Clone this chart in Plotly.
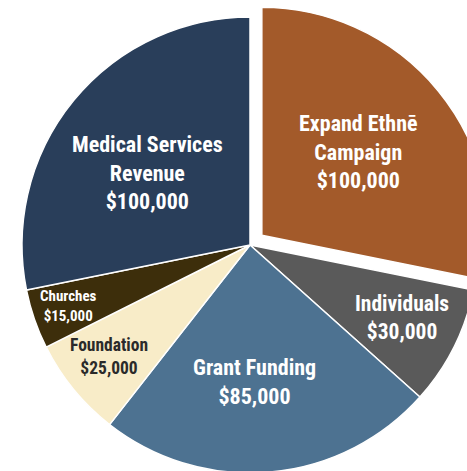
import math
import plotly.graph_objects as go

labels = ["Expand Ethnē<br>Campaign", "Individuals", "Grant Funding", "Foundation", "Churches", "Medical Services<br>Revenue"]
values = [100000, 30000, 85000, 25000, 15000, 100000]
colors = ["#A35A2A", "#5A5A5A", "#4D7291", "#F8ECC8", "#3D2E0B", "#293E5A"]
text_colors = ["white", "white", "white", "#2A2A2A", "white", "white"]
text_sizes = [22, 21.5, 22, 17.5, 15, 22]
label_radius = [0.56, 0.74, 0.6, 0.79, 0.84, 0.55]   # label distance from centre, as fraction of radius
label_turn = [-1.5, -1, 3, 1, 0.5, -4.5]             # small angular nudge of each label, degrees
pulls = [0.067, 0, 0, 0, 0, 0]

FONT = "Roboto Condensed, Liberation Sans Narrow, DejaVu Sans Condensed, Roboto, sans-serif"
W, H = 500, 490
cx, cy, r = 250, 245, 228
half = r * (1 + max(pulls))

texts = [f"<b>{l}<br>${v:,.0f}</b>" for l, v in zip(labels, values)]

fig = go.Figure(go.Pie(
    labels=labels,
    values=values,
    textinfo="none",
    sort=False,
    direction="clockwise",
    rotation=0,
    pull=pulls,
    marker=dict(colors=colors, line=dict(color="white", width=1.5)),
    hoverinfo="label+value",
    domain=dict(x=[(cx - half) / W, (cx + half) / W],
                y=[(H - cy - half) / H, (H - cy + half) / H]),
))

# place labels at each slice's mid-angle (derived from the values)
total = sum(values)
cum = 0
for txt, v, col, sz, f, t, p in zip(texts, values, text_colors, text_sizes, label_radius, label_turn, pulls):
    mid = math.radians((cum + v / 2) / total * 360)
    cum += v
    ox = cx + p * r * math.sin(mid)
    oy = cy - p * r * math.cos(mid)
    a = mid + math.radians(t)
    px = ox + f * r * math.sin(a)
    py = oy - f * r * math.cos(a)
    fig.add_annotation(
        x=px / W, y=1 - py / H, xref="paper", yref="paper",
        text=txt, showarrow=False, xanchor="center", yanchor="middle",
        font=dict(family=FONT, size=sz, color=col),
    )

fig.update_layout(
    width=W, height=H,
    margin=dict(l=0, r=0, t=0, b=0),
    showlegend=False,
    paper_bgcolor="white",
    plot_bgcolor="white",
)

fig.write_html("out.html", config={"displayModeBar": False},
               post_script="document.body.style.margin='0';document.body.style.overflow='hidden';document.documentElement.style.overflow='hidden';")
